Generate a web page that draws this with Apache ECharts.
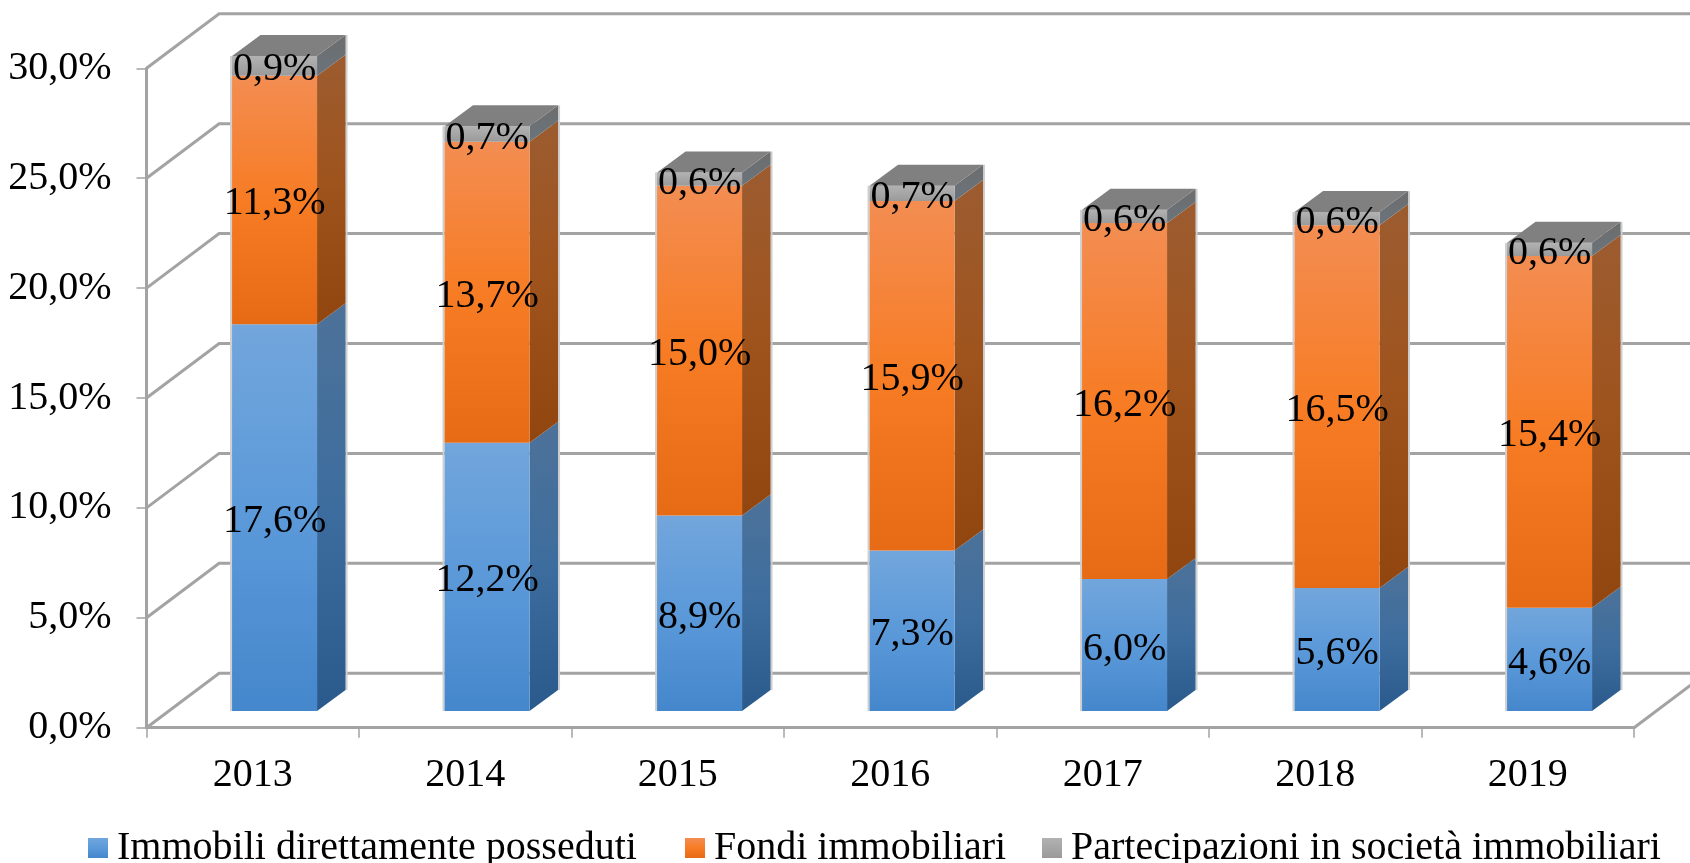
<!DOCTYPE html>
<html>
<head>
<meta charset="utf-8">
<style>html,body{margin:0;padding:0;background:#fff}#main{width:1690px;height:863px}</style>
<script src="https://cdn.jsdelivr.net/npm/echarts@6/dist/echarts.min.js"></script>
</head>
<body>
<div id="main"></div>
<script>
const years = ['2013', '2014', '2015', '2016', '2017', '2018', '2019'];
const yTicks = [0, 5, 10, 15, 20, 25, 30];
// bar heights as drawn in the picture (2019 is taller than its printed labels say)
const immobili = [17.6, 12.2, 8.9, 7.3, 6.0, 5.6, 4.7];
const fondi = [11.3, 13.7, 15.0, 15.9, 16.2, 16.5, 16.0];
const partecipazioni = [0.9, 0.7, 0.6, 0.7, 0.6, 0.6, 0.6];
// labels as printed
const immobiliLabels = ['17,6%', '12,2%', '8,9%', '7,3%', '6,0%', '5,6%', '4,6%'];
const fondiLabels = ['11,3%', '13,7%', '15,0%', '15,9%', '16,2%', '16,5%', '15,4%'];
const partecipazioniLabels = ['0,9%', '0,7%', '0,6%', '0,7%', '0,6%', '0,6%', '0,6%'];

// fake 3D: offsets of the back wall and of the bars, in px
const WALL_DX = 72.6, WALL_DY = -54.5;
const BAR_DX = 21.8, BAR_DY = -16.7;
const DEPTH_DX = 28.5, DEPTH_DY = -21;
const GRID_COLOR = '#a3a3a3';
const EDGE_COLOR = '#cfcfcf';
const FONT = '"Liberation Serif", serif';
const FONT_SIZE = 40;

function vgrad(stops) {
  return {
    type: 'linear', x: 0, y: 0, x2: 0, y2: 1,
    colorStops: stops.map((c, i) => ({ offset: i / (stops.length - 1), color: c }))
  };
}

function pct(v) {
  return v.toFixed(1).replace('.', ',') + '%';
}

function renderWall(params, api) {
  const cs = params.coordSys;
  const y = api.coord([0, api.value(1)])[1];
  const x0 = cs.x, x1 = cs.x + cs.width;
  const line = { stroke: GRID_COLOR, lineWidth: 3, fill: null };
  const children = [
    { type: 'polyline', shape: { points: [[x0, y], [x0 + WALL_DX, y + WALL_DY], [x1 + WALL_DX, y + WALL_DY]] }, style: line }
  ];
  if (api.value(1) === 0) {
    children.push({ type: 'line', shape: { x1: x1, y1: y, x2: x1 + WALL_DX, y2: y + WALL_DY }, style: line });
  }
  return { type: 'group', children: children };
}

function barRenderer(colors, labels, withTop) {
  return function (params, api) {
    const i = api.value(0), base = api.value(1), val = api.value(2);
    const band = api.size([1, 0])[0];
    const w = band * 0.4;
    const cx = api.coord([i, 0])[0] + BAR_DX;
    const xl = cx - w / 2, xr = cx + w / 2;
    const yb = api.coord([i, base])[1] + BAR_DY;
    const yt = api.coord([i, base + val])[1] + BAR_DY;
    const edge = { stroke: EDGE_COLOR, lineWidth: 2 };
    const children = [
      { type: 'line', shape: { x1: xl - 1, y1: yb, x2: xl - 1, y2: yt }, style: edge },
      { type: 'line', shape: { x1: xr + DEPTH_DX + 1, y1: yb + DEPTH_DY, x2: xr + DEPTH_DX + 1, y2: yt + DEPTH_DY }, style: edge },
      {
        type: 'polygon',
        shape: { points: [[xr, yb], [xr + DEPTH_DX, yb + DEPTH_DY], [xr + DEPTH_DX, yt + DEPTH_DY], [xr, yt]] },
        style: { fill: vgrad(colors.side) }
      },
      {
        type: 'rect',
        shape: { x: xl, y: yt, width: w, height: yb - yt },
        style: { fill: vgrad(colors.front) }
      }
    ];
    if (withTop) {
      children.push({
        type: 'polygon',
        shape: { points: [[xl, yt], [xl + DEPTH_DX, yt + DEPTH_DY], [xr + DEPTH_DX, yt + DEPTH_DY], [xr, yt]] },
        style: { fill: colors.top }
      });
    }
    children.push({
      type: 'text',
      style: {
        x: cx, y: (yt + yb) / 2 + 4, text: labels[i],
        font: FONT_SIZE + 'px ' + FONT, fill: '#000', align: 'center', verticalAlign: 'middle'
      }
    });
    return { type: 'group', children: children };
  };
}

const blue = { front: ['#72a6dc', '#5b99d9', '#4587cc'], side: ['#4d7299', '#3d6d9e', '#2a5a8c'] };
const orange = { front: ['#f38d52', '#f77c24', '#e76a14'], side: ['#9c5c30', '#9f531c', '#92460f'] };
const grey = { front: ['#b2b2b2', '#9a9a9a'], side: ['#6d6d6d', '#6a747c'], top: '#808080' };

let running = years.map(() => 0);
function stacked(values) {
  const rows = values.map((v, i) => [i, running[i], v]);
  running = running.map((r, i) => r + values[i]);
  return rows;
}

function barSeries(name, values, labels, colors, withTop) {
  return {
    name: name,
    type: 'custom',
    z: 3,
    silent: true,
    itemStyle: { color: vgrad(colors.front) },
    encode: { x: 0, y: [1, 2] },
    data: stacked(values),
    renderItem: barRenderer(colors, labels, withTop)
  };
}

const legendText = { fontFamily: FONT, fontSize: FONT_SIZE, color: '#000', padding: [0, 0, 0, 4] };

const chart = echarts.init(document.getElementById('main'));
chart.setOption({
  animation: false,
  backgroundColor: '#fff',
  grid: { left: 146.5, right: 56, top: 68.3, bottom: 135.3 },
  legend: [
    { left: 88, top: 828, data: ['Immobili direttamente posseduti'] },
    { left: 685, top: 828, data: ['Fondi immobiliari'] },
    { left: 1042, top: 828, data: ['Partecipazioni in società immobiliari'] }
  ].map(l => Object.assign(l, {
    icon: 'rect', itemWidth: 20, itemHeight: 20, itemGap: 0,
    padding: 0, selectedMode: false, textStyle: legendText
  })),
  xAxis: {
    type: 'category',
    data: years,
    axisLine: { lineStyle: { color: GRID_COLOR, width: 3 } },
    axisTick: { show: true, length: 10, alignWithLabel: false, lineStyle: { color: GRID_COLOR, width: 1.5 } },
    axisLabel: { fontFamily: FONT, fontSize: FONT_SIZE, color: '#000', margin: 28 }
  },
  yAxis: {
    type: 'value',
    min: 0,
    max: 30,
    interval: 5,
    axisLine: { show: true, lineStyle: { color: GRID_COLOR, width: 3 } },
    axisTick: { show: true, length: 10, lineStyle: { color: GRID_COLOR, width: 1.5 } },
    splitLine: { show: false },
    axisLabel: { fontFamily: FONT, fontSize: FONT_SIZE, color: '#000', margin: 35, padding: [9, 0, 0, 0], formatter: pct }
  },
  series: [
    {
      type: 'custom',
      z: 1,
      silent: true,
      encode: { x: 0, y: 1 },
      data: yTicks.map(v => [0, v]),
      renderItem: renderWall
    },
    barSeries('Immobili direttamente posseduti', immobili, immobiliLabels, blue, false),
    barSeries('Fondi immobiliari', fondi, fondiLabels, orange, false),
    barSeries('Partecipazioni in società immobiliari', partecipazioni, partecipazioniLabels, grey, true)
  ]
});
</script>
</body>
</html>
